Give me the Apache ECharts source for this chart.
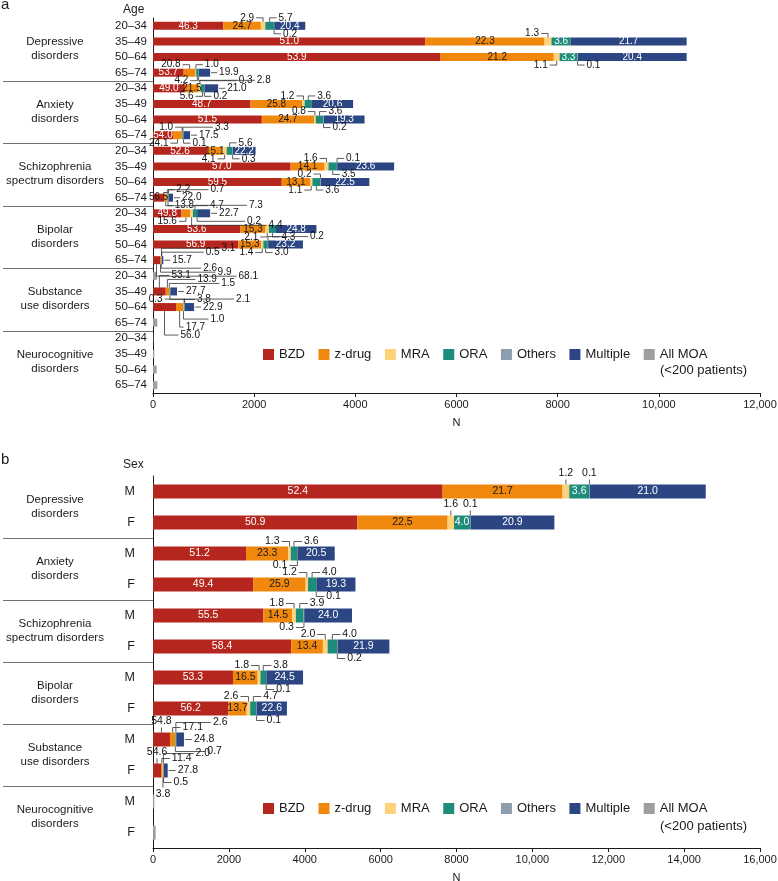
<!DOCTYPE html>
<html>
<head>
<meta charset="utf-8">
<script src="https://cdn.jsdelivr.net/npm/echarts@6/dist/echarts.min.js"></script>
<style>html,body{margin:0;padding:0;background:#fff}#chart{width:778px;height:881px}</style>
</head>
<body>
<div id="chart"></div>
<script>
const FONT = 'Liberation Sans, Arial, sans-serif';

const methods = ['BZD', 'z-drug', 'MRA', 'ORA', 'Others', 'Multiple', 'All MOA'];
const colors = ['#B5261E', '#F0880E', '#FDD27A', '#1D8C7A', '#8C9DAD', '#2C4583', '#9E9E9E'];
const labelColors = ['#fff', '#1a1a1a', '#1a1a1a', '#fff', '#fff', '#fff', '#fff'];

const groups = ['Depressive\ndisorders', 'Anxiety\ndisorders', 'Schizophrenia\nspectrum disorders',
  'Bipolar\ndisorders', 'Substance\nuse disorders', 'Neurocognitive\ndisorders'];
const ageBands = ['20–34', '35–49', '50–64', '65–74'];
const sexes = ['M', 'F'];

// panel a: one row per group x age band (N patients, % by MOA)
const totalA = [3004, 10560, 10550, 1130, 1287, 3960, 4178, 733, 2030, 4772, 4277, 396,
  1129, 3228, 2964, 205, 80, 475, 812, 85, 6, 26, 73, 85];
const bzdA = [46.3, 51.0, 53.9, 53.7, 49.0, 48.7, 51.5, 54.0, 52.6, 57.0, 59.5, 56.5,
  49.8, 53.6, 56.9, 68.1, null, 53.1, 56.0, null, null, null, null, null];
const zdrugA = [24.7, 22.3, 21.2, 20.8, 21.5, 25.8, 24.7, 24.1, 15.1, 14.1, 13.1, 13.8,
  15.6, 15.3, 15.3, 9.9, null, 13.9, 17.7, null, null, null, null, null];
const mraA = [2.9, 1.3, 1.1, 1.0, 2.8, 1.2, 0.8, 1.0, 4.1, 1.6, 1.1, 2.2,
  4.4, 2.1, 1.4, 2.6, null, 1.5, 1.0, null, null, null, null, null];
const oraA = [5.7, 3.6, 3.3, 4.2, 5.6, 3.6, 3.6, 3.3, 5.6, 3.5, 3.6, 4.7,
  7.3, 4.3, 3.0, 3.1, null, 3.8, 2.1, null, null, null, null, null];
const othersA = [0.2, 0, 0.1, 0.3, 0.2, 0, 0.2, 0.1, 0.3, 0.1, 0.2, 0.7,
  0.2, 0, 0.2, 0.5, null, 0, 0.3, null, null, null, null, null];
const multipleA = [20.4, 21.7, 20.4, 19.9, 21.0, 20.6, 19.3, 17.5, 22.2, 23.6, 22.5, 22.0,
  22.7, 24.8, 23.2, 15.7, null, 27.7, 22.9, null, null, null, null, null];

// panel b: one row per group x sex
const totalB = [14570, 10580, 4790, 5342, 5245, 6237, 3955, 3534, 816, 387, 35, 70];
const bzdB = [52.4, 50.9, 51.2, 49.4, 55.5, 58.4, 53.3, 56.2, 54.8, 54.6, null, null];
const zdrugB = [21.7, 22.5, 23.3, 25.9, 14.5, 13.4, 16.5, 13.7, 17.1, 11.4, null, null];
const mraB = [1.2, 1.6, 1.3, 1.2, 1.8, 2.0, 1.8, 2.6, 0.7, 3.8, null, null];
const oraB = [3.6, 4.0, 3.6, 4.0, 3.9, 4.0, 3.8, 4.7, 2.6, 2.0, null, null];
const othersB = [0.1, 0.1, 0.1, 0.1, 0.3, 0.2, 0.1, 0.1, 0, 0.5, null, null];
const multipleB = [21.0, 20.9, 20.5, 19.3, 24.0, 21.9, 24.5, 22.6, 24.8, 27.8, null, null];

// where the small-segment labels go: row -> {segment: code}
// code: u/d (above/below) + l/r/c (direction) + reach px + t tier ; r = right of bar ; k = inside, dark text
const calloutsA = {
  0: {2: 'ul', 3: 'ur', 4: 'dr'},
  1: {2: 'ul'},
  2: {2: 'dl', 4: 'dr'},
  3: {1: 'ul', 2: 'ur', 3: 'dl', 4: 'dr38', 5: 'r'},
  4: {2: 'ur55', 3: 'dl', 4: 'dr', 5: 'r'},
  5: {2: 'ul', 3: 'ur'},
  6: {2: 'ul', 3: 'ur', 4: 'dr'},
  7: {1: 'dl', 2: 'ul', 3: 'ur30', 4: 'dr', 5: 'r'},
  8: {2: 'dl', 3: 'ur', 4: 'dr'},
  9: {2: 'ul', 3: 'dr', 4: 'ur'},
  10: {2: 'dl', 3: 'dr', 4: 'ul'},
  11: {0: 'k', 1: 'dr', 2: 'ur', 3: 'dr40', 4: 'ur40', 5: 'r'},
  12: {1: 'dl', 2: 'dr75t1', 3: 'ur52', 4: 'dr48', 5: 'r'},
  13: {2: 'dl', 3: 'dr'},
  14: {2: 'dl', 3: 'dr', 4: 'ur40'},
  15: {0: 'dr80t2', 1: 'dr55t1', 2: 'dr40', 3: 'ur58t1', 4: 'ur42', 5: 'r'},
  17: {0: 'ur10t2', 1: 'ur28t1', 2: 'ur50', 3: 'dr25', 5: 'r'},
  18: {0: 'dr14t5', 1: 'dr4t3', 2: 'dr25t1', 3: 'ur50', 4: 'ul20', 5: 'r'}
};
const calloutsB = {
  0: {2: 'uc', 4: 'uc'},
  1: {2: 'uc', 4: 'uc'},
  2: {2: 'ul', 3: 'ur', 4: 'dl'},
  3: {2: 'ul', 3: 'ur', 4: 'dr'},
  4: {2: 'ul', 3: 'ur', 4: 'dl'},
  5: {2: 'ul', 3: 'ur', 4: 'dr'},
  6: {2: 'ul', 3: 'ur', 4: 'dr'},
  7: {2: 'ul', 3: 'ur', 4: 'dr'},
  8: {0: 'uc', 1: 'ur', 3: 'ur35t1', 5: 'r', 2: 'dr30'},
  9: {0: 'uc', 1: 'ur', 3: 'ur30t1', 5: 'r', 4: 'dr', 2: 'dct1'}
};

const panels = [
  {total: totalA, pcts: [bzdA, zdrugA, mraA, oraA, othersA, multipleA], callouts: calloutsA,
   rows: groups.flatMap((g, gi) => ageBands.map(a => gi + '|' + a)),
   top: 18, height: 375, max: 12000, barWidth: 8, pxPerUnit: 606 / 12000,
   gap: 4, tierStep: 4, reach: 7, fontSize: 10, rowMargin: 6, rowFont: 11.5},
  {total: totalB, pcts: [bzdB, zdrugB, mraB, oraB, othersB, multipleB], callouts: calloutsB,
   rows: groups.flatMap((g, gi) => sexes.map(s => gi + '|' + s)),
   top: 476, height: 372, max: 16000, barWidth: 14, pxPerUnit: 608 / 16000,
   gap: 5, tierStep: 5, reach: 8, fontSize: 10.5, rowMargin: 18, rowFont: 12.5}
];

function parseCode(code) {
  const m = /^([udr])([lrc]?)(\d*)(?:t(\d))?$/.exec(code);
  return {side: m[1], dir: m[2] || 'r', reach: m[3] ? +m[3] : null, tier: m[4] ? +m[4] : 0};
}

function calloutItems(P) {
  const items = [];
  P.total.forEach((t, i) => {
    const spec = P.callouts[i];
    if (!spec) return;
    let acc = 0;
    const starts = [], ends = [];
    P.pcts.forEach(a => { starts.push(acc); acc += (a[i] || 0) * t / 100; ends.push(acc); });
    Object.keys(spec).forEach(k => {
      if (spec[k] === 'k') return;
      const c = parseCode(spec[k]);
      items.push(Object.assign(c, {x0: starts[k], x1: ends[k], xe: acc, row: i, text: P.pcts[k][i].toFixed(1)}));
    });
  });
  return items;
}

function barSeries(P, gi) {
  return methods.map((m, k) => ({
    name: m, type: 'bar', stack: 'stack' + gi, xAxisIndex: gi, yAxisIndex: gi * 2,
    barWidth: P.barWidth, itemStyle: {color: colors[k]},
    label: {show: false, position: 'inside', fontSize: P.fontSize, fontFamily: FONT,
      formatter: p => P.pcts[k][p.dataIndex].toFixed(1)},
    data: P.total.map((t, i) => {
      if (k === 6) return P.pcts[0][i] == null ? t : null;
      const v = P.pcts[k][i];
      if (v == null) return null;
      const w = t * v / 100;
      const code = P.callouts[i] && P.callouts[i][k];
      const show = code ? code === 'k' : (v > 0 && w * P.pxPerUnit >= 10);
      return {value: w, label: {show, color: code === 'k' ? '#1a1a1a' : labelColors[k]}};
    })
  }));
}

function calloutSeries(P, gi) {
  const items = calloutItems(P);
  return {
    type: 'custom', xAxisIndex: gi, yAxisIndex: gi * 2, silent: true, z: 10,
    data: items.map(d => [d.x0, d.x1, d.row, d.xe]),
    encode: {x: [0, 1, 3], y: 2},
    renderItem: (params, api) => {
      const d = items[params.dataIndex];
      const a = api.coord([api.value(0), api.value(2)]);
      const b = api.coord([api.value(1), api.value(2)]);
      const e = api.coord([api.value(3), api.value(2)]);
      const cy = a[1], mid = (a[0] + b[0]) / 2, hh = P.barWidth / 2;
      const reach = d.reach != null ? d.reach : P.reach;
      let pts, tx, ty, align, va = 'middle';
      if (d.side === 'r') {
        pts = [[e[0] + 1, cy], [e[0] + reach, cy]];
        tx = e[0] + reach + 2; ty = cy; align = 'left';
      } else {
        const s = d.side === 'u' ? -1 : 1;
        const y0 = cy + s * hh, y1 = cy + s * (hh + P.gap + d.tier * P.tierStep);
        if (d.dir === 'c') {
          pts = [[mid, y0], [mid, y1]];
          tx = mid; ty = y1 + s; align = 'center'; va = s < 0 ? 'bottom' : 'top';
        } else {
          const dx = d.dir === 'l' ? -reach : reach;
          pts = [[mid, y0], [mid, y1], [mid + dx, y1]];
          tx = mid + dx + (dx < 0 ? -2 : 2); ty = y1; align = dx < 0 ? 'right' : 'left';
        }
      }
      return {type: 'group', children: [
        {type: 'polyline', shape: {points: pts}, style: {stroke: '#333', lineWidth: 0.8, fill: null}},
        {type: 'text', style: {text: d.text, x: tx, y: ty, align, verticalAlign: va,
          fontSize: P.fontSize, fontFamily: FONT, fill: '#111'}}
      ]};
    }
  };
}

function separatorSeries(gi) {
  return {
    type: 'custom', xAxisIndex: gi, yAxisIndex: gi * 2 + 1, silent: true,
    data: [1, 2, 3, 4, 5].map(i => [0, i]), encode: {x: 0, y: 1},
    renderItem: (params, api) => {
      const c = api.coord([0, api.value(1)]);
      const band = api.size([0, 1])[1];
      const y = Math.round(c[1] - band / 2) + 0.5;
      return {type: 'line', shape: {x1: c[0] - 150, y1: y, x2: c[0], y2: y},
        style: {stroke: '#707070', lineWidth: 1}};
    }
  };
}

function legendFor(top) {
  return {
    left: 263, top, padding: 0, icon: 'rect', itemWidth: 11, itemHeight: 11, itemGap: 13.5, selectedMode: false,
    textStyle: {fontSize: 13, color: '#1a1a1a', fontFamily: FONT},
    data: methods
  };
}

const axisLabelFmt = v => v >= 10000 ? v.toLocaleString('en-US') : String(v);
const plainTitle = (text, left, top, size) => ({text, left, top, padding: 0,
  textStyle: {fontSize: size, fontWeight: 'normal', color: '#1a1a1a', fontFamily: FONT}});

const chart = echarts.init(document.getElementById('chart'), null, {renderer: 'canvas'});

const option = {
  animation: false,
  textStyle: {fontFamily: FONT},
  title: [
    plainTitle('a', 1, -3, 15),
    plainTitle('Age', 123, 4, 12),
    plainTitle('(<200 patients)', 660, 364, 13),
    plainTitle('b', 1, 452, 15),
    plainTitle('Sex', 123, 459, 12),
    plainTitle('(<200 patients)', 660, 820, 13)
  ],
  legend: [legendFor(348), legendFor(802)],
  grid: panels.map(P => ({left: 153, right: 18, top: P.top, height: P.height, outerBoundsMode: 'none', containLabel: false})),
  xAxis: panels.map((P, gi) => ({
    type: 'value', gridIndex: gi, min: 0, max: P.max, interval: 2000,
    name: 'N', nameLocation: 'middle', nameGap: 24,
    nameTextStyle: {fontSize: 11, color: '#1a1a1a'},
    axisLine: {show: true, lineStyle: {color: '#1a1a1a', width: 1}},
    axisTick: {show: true, length: 4, lineStyle: {color: '#1a1a1a'}},
    axisLabel: {fontSize: 11, color: '#1a1a1a', margin: 6, formatter: axisLabelFmt},
    splitLine: {show: false}
  })),
  yAxis: panels.flatMap((P, gi) => [
    {type: 'category', gridIndex: gi, position: 'left', inverse: true, data: P.rows,
     axisLine: {show: true, onZero: false, lineStyle: {color: '#1a1a1a', width: 1}},
     axisTick: {show: false},
     axisLabel: {fontSize: P.rowFont, color: '#1a1a1a', margin: P.rowMargin, formatter: v => v.split('|')[1]}},
    {type: 'category', gridIndex: gi, position: 'left', offset: 0, inverse: true, data: groups,
     axisLine: {show: false}, axisTick: {show: false},
     axisLabel: {fontSize: 11.5, lineHeight: 14, color: '#1a1a1a', align: 'center', margin: 98}}
  ]),
  series: panels.flatMap((P, gi) => [
    ...barSeries(P, gi), calloutSeries(P, gi), separatorSeries(gi)
  ])
};

chart.setOption(option);
</script>
</body>
</html>
